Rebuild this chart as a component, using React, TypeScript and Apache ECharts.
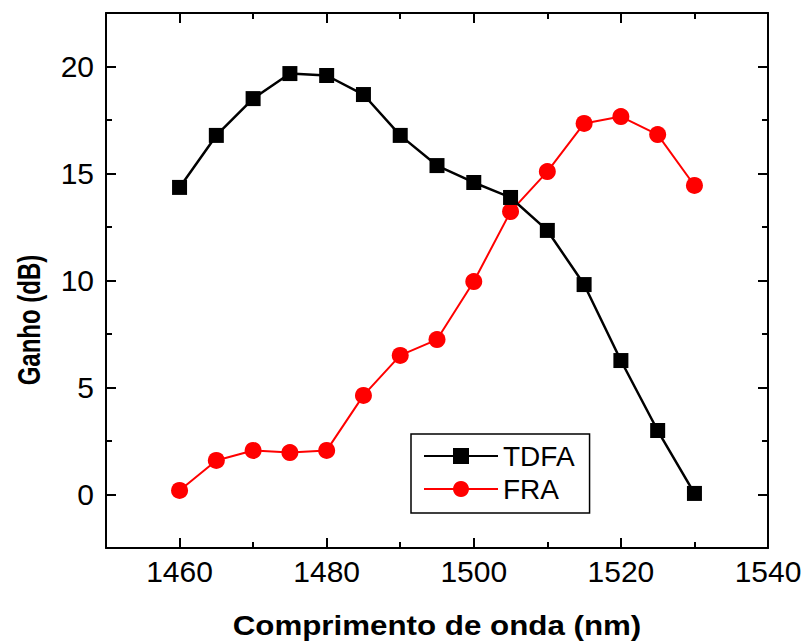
import React, { useEffect, useRef } from "react";
import * as echarts from "echarts";

const wavelengths = [1460, 1465, 1470, 1475, 1480, 1485, 1490, 1495, 1500, 1505, 1510, 1515, 1520, 1525, 1530];
const tdfaGain = [14.35, 16.78, 18.5, 19.67, 19.58, 18.69, 16.78, 15.37, 14.58, 13.88, 12.34, 9.81, 6.26, 2.99, 0.05];
const fraGain = [0.19, 1.59, 2.06, 1.96, 2.06, 4.63, 6.5, 7.24, 9.95, 13.22, 15.09, 17.34, 17.66, 16.82, 14.44];

const xMajorTicks = [1460, 1480, 1500, 1520, 1540];
const xMinorTicks = [1450, 1470, 1490, 1510, 1530];
const yMajorTicks = [0, 5, 10, 15, 20];
const yMinorTicks = [-2.5, 2.5, 7.5, 12.5, 17.5, 22.5];

const X_MIN = 1450;
const X_MAX = 1540;
const Y_MIN = -2.5;
const Y_MAX = 22.5;

const FONT = "'Liberation Sans', Arial, sans-serif";

export default function App() {
  const ref = useRef<HTMLDivElement>(null);

  useEffect(() => {
    if (!ref.current) return;
    const chart = echarts.init(ref.current, undefined, { renderer: "svg" });

    const axisLine = { show: true, onZero: false, lineStyle: { color: "#000", width: 2 } };
    const noLine = { show: false, onZero: false };

    const xAxisBase = (position: string, ticks: number[], len: number, withLine: boolean, withLabels: boolean) => ({
      type: "value",
      position,
      min: X_MIN,
      max: X_MAX,
      axisLine: withLine ? axisLine : noLine,
      axisTick: {
        show: true,
        inside: true,
        length: len,
        customValues: ticks,
        lineStyle: { color: "#000", width: 2 },
      },
      axisLabel: withLabels
        ? {
            show: true,
            customValues: xMajorTicks,
            fontSize: 30,
            color: "#000",
            fontFamily: FONT,
            margin: 8,
            formatter: (v: number) => String(v),
          }
        : { show: false },
      splitLine: { show: false },
    });

    const yAxisBase = (position: string, ticks: number[], len: number, withLine: boolean, withLabels: boolean) => ({
      type: "value",
      position,
      min: Y_MIN,
      max: Y_MAX,
      axisLine: withLine ? axisLine : noLine,
      axisTick: {
        show: true,
        inside: true,
        length: len,
        customValues: ticks,
        lineStyle: { color: "#000", width: 2 },
      },
      axisLabel: withLabels
        ? {
            show: true,
            customValues: yMajorTicks,
            fontSize: 30,
            color: "#000",
            fontFamily: FONT,
            margin: 12,
            formatter: (v: number) => String(v),
          }
        : { show: false },
      splitLine: { show: false },
    });

    const option: any = {
      animation: false,
      backgroundColor: "#fff",
      grid: { left: 106, right: 40, top: 13, bottom: 95, containLabel: false },
      xAxis: [
        xAxisBase("bottom", xMajorTicks, 10, true, true),
        xAxisBase("bottom", xMinorTicks, 6, false, false),
        xAxisBase("top", xMajorTicks, 10, true, false),
        xAxisBase("top", xMinorTicks, 6, false, false),
      ],
      yAxis: [
        yAxisBase("left", yMajorTicks, 10, true, true),
        yAxisBase("left", yMinorTicks, 6, false, false),
        yAxisBase("right", yMajorTicks, 10, true, false),
        yAxisBase("right", yMinorTicks, 6, false, false),
      ],
      legend: {
        orient: "vertical",
        left: 411,
        top: 434,
        borderColor: "#000",
        borderWidth: 1.5,
        borderRadius: 0,
        padding: [8, 15, 10, 12],
        itemWidth: 74,
        itemHeight: 20,
        itemGap: 5,
        textStyle: { fontSize: 28, color: "#000", fontFamily: FONT },
        data: ["TDFA", "FRA"],
      },
      graphic: [
        {
          type: "text",
          x: 437,
          y: 626,
          scaleX: 1.16,
          style: {
            text: "Comprimento de onda (nm)",
            font: `bold 27px ${FONT}`,
            fill: "#000",
            textAlign: "center",
            textVerticalAlign: "middle",
          },
        },
        {
          type: "text",
          x: 29,
          y: 320,
          rotation: Math.PI / 2,
          scaleX: 0.75,
          scaleY: 1,
          style: {
            text: "Ganho (dB)",
            font: `bold 32px ${FONT}`,
            fill: "#000",
            textAlign: "center",
            textVerticalAlign: "middle",
          },
        },
      ],
      series: [
        {
          name: "FRA",
          type: "line",
          xAxisIndex: 0,
          yAxisIndex: 0,
          data: wavelengths.map((w, i) => [w, fraGain[i]]),
          symbol: "circle",
          symbolSize: 17,
          itemStyle: { color: "#ff0000" },
          lineStyle: { color: "#ff0000", width: 2 },
          z: 2,
        },
        {
          name: "TDFA",
          type: "line",
          xAxisIndex: 0,
          yAxisIndex: 0,
          data: wavelengths.map((w, i) => [w, tdfaGain[i]]),
          symbol: "rect",
          symbolSize: 15,
          itemStyle: { color: "#000" },
          lineStyle: { color: "#000", width: 2.5 },
          z: 3,
        },
      ],
    };

    chart.setOption(option);
    return () => chart.dispose();
  }, []);

  return (
    <div
      ref={ref}
      style={{ position: "fixed", left: 0, top: 0, width: 808, height: 643, background: "#fff" }}
    />
  );
}
